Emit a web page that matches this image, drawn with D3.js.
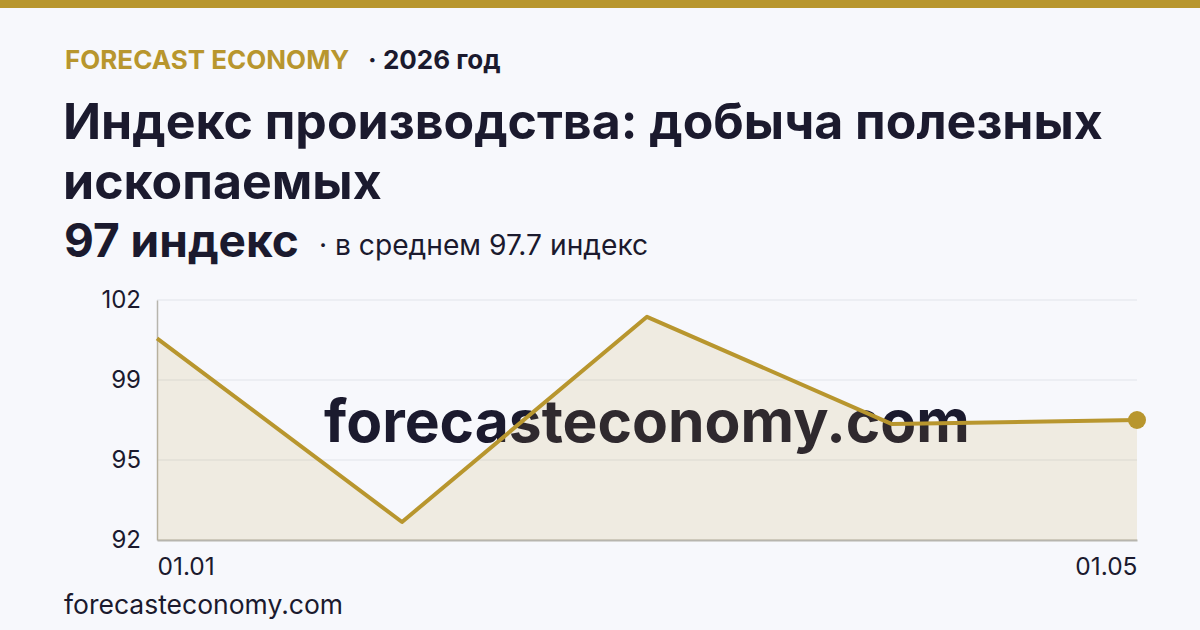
<!DOCTYPE html>
<html lang="ru">
<head>
    <meta charset="UTF-8">
    <title>Индекс производства: добыча полезных ископаемых</title>
    <script src="https://d3js.org/d3.v7.min.js"></script>
    <style>
        html, body { margin: 0; padding: 0; background: #f7f8fc; }
        svg { display: block; font-family: Inter, "Noto Sans", sans-serif; }
    </style>
</head>
<body>
<div id="chart"></div>
<script>
    // data
    const months = ['01.01', '01.02', '01.03', '01.04', '01.05'];
    const values = [100.4, 92.75, 101.3, 96.83, 97.0];
    const yTicks = [92, 95.333, 98.667, 102];
    const xTickLabels = ['01.01', '01.05'];

    const width = 1200, height = 630;
    const gold = '#b8962e';
    const ink = '#1b1a2e';

    const svg = d3.select('#chart').append('svg')
        .attr('width', width)
        .attr('height', height);

    svg.append('rect').attr('width', width).attr('height', height).attr('fill', '#f7f8fc');
    svg.append('rect').attr('width', width).attr('height', 8).attr('fill', gold);

    // header
    const head = svg.append('text').attr('x', 65).attr('y', 69)
        .attr('font-size', 26).attr('font-weight', 700);
    head.append('tspan').attr('fill', gold).text('FORECAST ECONOMY');
    head.append('tspan').attr('fill', ink).attr('dx', 20).text('· 2026 год');

    svg.append('text').attr('x', 63).attr('y', 139)
        .attr('font-size', 50).attr('font-weight', 700).attr('fill', ink)
        .text('Индекс производства: добыча полезных');
    svg.append('text').attr('x', 63).attr('y', 199)
        .attr('font-size', 50).attr('font-weight', 700).attr('fill', ink)
        .text('ископаемых');

    const avg = d3.mean(values);
    const last = values[values.length - 1];
    const sub = svg.append('text').attr('x', 64).attr('y', 257).attr('fill', ink);
    sub.append('tspan').attr('font-size', 46).attr('font-weight', 700)
        .text(`${d3.format('.0f')(last)} индекс`);
    sub.append('tspan').attr('font-size', 28.2).attr('font-weight', 400).attr('dx', 20)
        .attr('dy', -2)
        .text(`· в среднем ${d3.format('.1f')(avg)} индекс`);

    // chart
    const plotL = 157, plotR = 1137, plotT = 300, plotB = 540;
    const x = d3.scalePoint().domain(months).range([plotL, plotR]);
    const y = d3.scaleLinear().domain([92, 102]).range([plotB, plotT]);

    const g = svg.append('g');

    g.selectAll('line.grid').data(yTicks).enter().append('line')
        .attr('class', 'grid')
        .attr('x1', plotL).attr('x2', plotR)
        .attr('y1', d => y(d)).attr('y2', d => y(d))
        .attr('stroke', '#e2e3e9').attr('stroke-width', 1.2);

    const yAxis = g.append('g')
        .attr('transform', `translate(${plotL},0)`)
        .call(d3.axisLeft(y).tickValues(yTicks).tickFormat(d3.format('.0f')).tickSize(0).tickPadding(16));
    yAxis.select('.domain').attr('stroke', '#b7b5ae').attr('stroke-width', 1.5);
    yAxis.selectAll('text').attr('font-size', 24).attr('fill', ink)
        .attr('font-family', 'Inter, sans-serif');

    const xAxis = g.append('g')
        .attr('transform', `translate(0,${plotB})`)
        .call(d3.axisBottom(x).tickValues(xTickLabels).tickSize(0).tickPadding(18));
    xAxis.select('.domain').attr('stroke', '#b7b5ae').attr('stroke-width', 2);
    xAxis.selectAll('text').attr('font-size', 24.5).attr('fill', ink)
        .attr('font-family', 'Inter, sans-serif')
        .attr('text-anchor', (d, i) => i === 0 ? 'start' : 'end');

    // watermark
    g.append('text')
        .attr('x', (plotL + plotR) / 2).attr('y', (plotT + plotB) / 2)
        .attr('text-anchor', 'middle').attr('dominant-baseline', 'central')
        .attr('font-size', 58.7).attr('font-weight', 700).attr('fill', ink)
        .text('forecasteconomy.com');

    const pts = months.map((m, i) => [x(m), y(values[i])]);

    g.append('path')
        .attr('d', d3.area().x(d => d[0]).y0(plotB).y1(d => d[1])(pts))
        .attr('fill', gold).attr('fill-opacity', 0.13);

    g.append('path')
        .attr('d', d3.line()(pts))
        .attr('fill', 'none').attr('stroke', gold).attr('stroke-width', 4)
        .attr('stroke-linejoin', 'round');

    g.append('circle')
        .attr('cx', x(months[months.length - 1])).attr('cy', y(last))
        .attr('r', 9).attr('fill', gold);

    svg.append('text').attr('x', 64).attr('y', 614)
        .attr('font-size', 26.5).attr('fill', ink)
        .text('forecasteconomy.com');
</script>
</body>
</html>
